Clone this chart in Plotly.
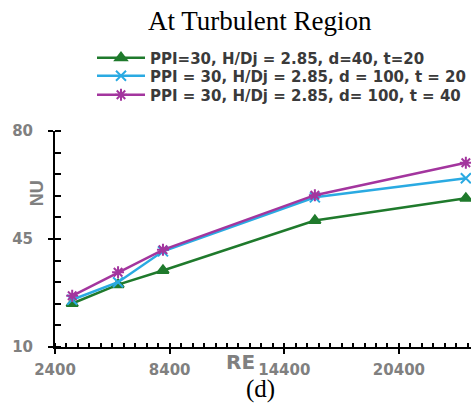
import plotly.graph_objects as go

re_values = [3300, 5700, 8050, 16000, 23900]
nu_d40_t20 = [24.1, 30.2, 34.8, 51.0, 58.2]
nu_d100_t20 = [25.3, 31.0, 41.0, 58.5, 64.7]
nu_d100_t40 = [26.6, 34.2, 41.5, 59.2, 69.7]

series_names = [
    "PPI=30, H/Dj = 2.85, d=40, t=20",
    "PPI = 30, H/Dj = 2.85, d = 100, t = 20",
    "PPI = 30, H/Dj = 2.85, d= 100, t = 40",
]
x_tickvals = [2400, 8400, 14400, 20400]
x_ticktext = ["2400", "8400", "14400", "20400"]
y_tickvals = [10, 45, 80]
y_ticktext = ["10", "45", "80"]

colors = ["#1f7a2c", "#2aaae2", "#a3359e"]
symbols = ["triangle-up", "x-thin-open", "asterisk-open"]
legend_ids = ["legend", "legend2", "legend3"]
legend_rows_px = [58, 76, 95]

fig = go.Figure()
for name, ys, c, s, lg in zip(series_names, [nu_d40_t20, nu_d100_t20, nu_d100_t40], colors, symbols, legend_ids):
    fig.add_trace(go.Scatter(
        x=re_values, y=ys, name=name, mode="lines+markers",
        line=dict(color=c, width=2.5),
        marker=dict(symbol=s, size=10, color=c, line=dict(color=c, width=2)),
        cliponaxis=False, legend=lg,
    ))

axis_font = dict(family="DejaVu Sans", size=15, color="#808080", weight="bold")
legend_font = dict(family="DejaVu Sans", size=15, color="#3a3a3a", weight="bold")

legends = {}
for lg, ypx in zip(legend_ids, legend_rows_px):
    legends[lg] = dict(
        xref="container", yref="container",
        x=92 / 471, y=1 - ypx / 412, xanchor="left", yanchor="middle",
        font=legend_font, bgcolor="rgba(0,0,0,0)", itemwidth=48,
    )

fig.update_layout(
    width=471, height=412,
    margin=dict(l=55, r=0, t=131, b=65, autoexpand=False),
    paper_bgcolor="white", plot_bgcolor="white",
    showlegend=True,
    **legends,
    xaxis=dict(
        range=[2400, 24170], tickvals=x_tickvals, ticktext=x_ticktext, showgrid=False, zeroline=False,
        showline=True, linecolor="black", linewidth=2, automargin=False,
        ticks="outside", ticklen=5, tickwidth=2, tickcolor="black",
        minor=dict(dtick=600, tick0=2400, ticks="inside", ticklen=4, tickwidth=2, tickcolor="black"),
        tickfont=axis_font, ticklabelstandoff=3,
    ),
    yaxis=dict(
        range=[10, 80], tickvals=y_tickvals, ticktext=y_ticktext, showgrid=False, zeroline=False,
        showline=True, linecolor="black", linewidth=2, automargin=False,
        ticks="outside", ticklen=5, tickwidth=2, tickcolor="black",
        minor=dict(dtick=7, tick0=10, ticks="inside", ticklen=6, tickwidth=2, tickcolor="black"),
        tickfont=axis_font, ticklabelstandoff=12,
    ),
    annotations=[
        dict(text="At Turbulent Region", xref="paper", yref="paper", x=(260 - 55) / 416,
             y=1 + (131 - 22) / 215, xanchor="center", yanchor="middle", showarrow=False,
             font=dict(family="Liberation Serif, Times New Roman", size=27, color="black")),
        dict(text="(d)", xref="paper", yref="paper", x=(260 - 55) / 416,
             y=-(388 - 346) / 215, xanchor="center", yanchor="middle", showarrow=False,
             font=dict(family="Liberation Serif, Times New Roman", size=25, color="black")),
        dict(text="RE", xref="paper", yref="paper", x=(257 - 55) / 416,
             y=-(361 - 346) / 215, xanchor="right", yanchor="middle", showarrow=False,
             font=dict(family="DejaVu Sans", size=20, color="#808080", weight="bold")),
        dict(text="NU", xref="paper", yref="paper", x=(37 - 55) / 416,
             y=(346 - 193) / 215, xanchor="center", yanchor="middle", showarrow=False, textangle=-90,
             font=dict(family="Liberation Sans, Arial", size=18, color="#808080", weight="bold")),
    ],
)

fig.write_html("out.html", config={"displayModeBar": False})

with open("out.html", "r", encoding="utf-8") as f:
    html = f.read()
html = html.replace("<head>", "<head><style>html,body{margin:0;padding:0;overflow:hidden;}</style>", 1)
with open("out.html", "w", encoding="utf-8") as f:
    f.write(html)
